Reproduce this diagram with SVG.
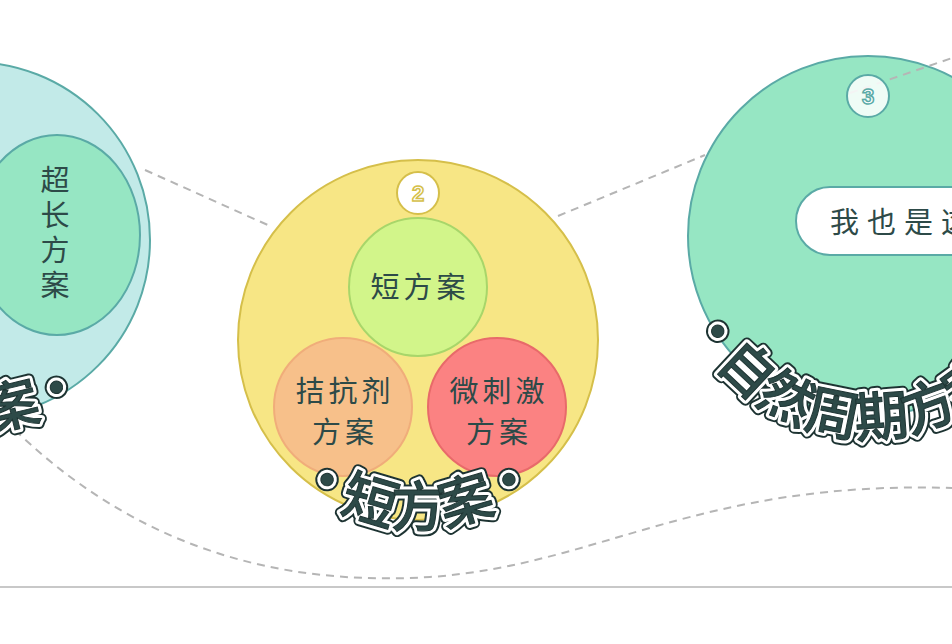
<svg xmlns="http://www.w3.org/2000/svg" width="952" height="644" viewBox="0 0 952 644">
<style>
.lbl{font-family:"Noto Sans CJK SC",sans-serif;fill:#2d4a48;font-size:29px;letter-spacing:4px}
.arc{font-family:"Noto Sans CJK SC",sans-serif;font-weight:500;font-size:54px;fill:#2d4a48;stroke:#1d3332;stroke-width:1}
.arcbg{font-family:"Noto Sans CJK SC",sans-serif;font-weight:500;font-size:54px;fill:#fff;stroke:#1d3332;stroke-width:11;stroke-linejoin:round}
.arcwh{font-family:"Noto Sans CJK SC",sans-serif;font-weight:500;font-size:54px;fill:#fff;stroke:#fff;stroke-width:7;stroke-linejoin:round}
.dash{fill:none;stroke:#b5b5b5;stroke-width:2;stroke-dasharray:8 6}
.badge{fill:#fff;stroke-width:2}
.num{font-family:"Liberation Sans",sans-serif;font-weight:bold;font-size:22px;fill:#fff;stroke-width:1.5;text-anchor:middle}
</style>
<defs>
<path id="pL" d="M -218 240 A 190 190 0 0 0 89 390"/>
<path id="pM" d="M 231 340 A 187 187 0 0 0 605 340"/>
<path id="pR" d="M 688 318 A 196 196 0 0 0 1064 235"/>
</defs>
<line x1="0" y1="587" x2="952" y2="587" stroke="#c8c8c8" stroke-width="2"/>
<g id="connectors">
<path class="dash" d="M145 170 L270 226"/>
<path class="dash" d="M558 216 L705 155"/>
<path class="dash" d="M15 430 C150 560 300 585 430 577 C600 565 700 480 952 488"/>
</g>
<g id="node1">
<circle cx="-28" cy="240" r="178" fill="#c2eae8" stroke="#5aaaa6" stroke-width="2"/>
<ellipse cx="57" cy="235" rx="83" ry="100" fill="#96e6c3" stroke="#5aaaa6" stroke-width="2"/>
<text class="lbl" x="57" y="191" text-anchor="middle">超</text>
<text class="lbl" x="57" y="226" text-anchor="middle">长</text>
<text class="lbl" x="57" y="261" text-anchor="middle">方</text>
<text class="lbl" x="57" y="296" text-anchor="middle">案</text>
<text class="arcbg"><textPath href="#pL" startOffset="100%" text-anchor="end">·超长方案·</textPath></text>
<text class="arcwh"><textPath href="#pL" startOffset="100%" text-anchor="end">·超长方案·</textPath></text>
<text class="arc"><textPath href="#pL" startOffset="100%" text-anchor="end">·超长方案·</textPath></text>
</g>
<g id="node2">
<circle cx="418" cy="340" r="180" fill="#f7e685" stroke="#d5bf4a" stroke-width="2"/>
<circle class="badge" cx="418" cy="193" r="21" stroke="#d5bf4a"/>
<text class="num" x="418" y="201" stroke="#d5bf4a">2</text>
<circle cx="418" cy="287" r="69" fill="#d2f58a" stroke="#a8d66a" stroke-width="2"/>
<text class="lbl" x="420" y="298" text-anchor="middle">短方案</text>
<circle cx="343" cy="407" r="69" fill="#f7c08a" stroke="#f0ad7a" stroke-width="2"/>
<text class="lbl" x="345" y="402" text-anchor="middle">拮抗剂</text>
<text class="lbl" x="345" y="443" text-anchor="middle">方案</text>
<circle cx="497" cy="407" r="69" fill="#fb8282" stroke="#e86a6a" stroke-width="2"/>
<text class="lbl" x="499" y="402" text-anchor="middle">微刺激</text>
<text class="lbl" x="499" y="443" text-anchor="middle">方案</text>
<text class="arcbg"><textPath href="#pM" startOffset="50%" text-anchor="middle">·短方案·</textPath></text>
<text class="arcwh"><textPath href="#pM" startOffset="50%" text-anchor="middle">·短方案·</textPath></text>
<text class="arc"><textPath href="#pM" startOffset="50%" text-anchor="middle">·短方案·</textPath></text>
</g>
<g id="node3">
<circle cx="868" cy="236" r="180" fill="#96e6c3" stroke="#5aaaa6" stroke-width="2"/>
<path class="dash" d="M850 93 L952 58"/>
<circle class="badge" cx="868" cy="96" r="21" stroke="#5aaaa6" fill-opacity="0.85"/>
<text class="num" x="868" y="104" stroke="#5aaaa6">3</text>
<rect x="796" y="187" width="240" height="68" rx="34" fill="#fff" stroke="#5aaaa6" stroke-width="2"/>
<text class="lbl" x="830" y="233" style="letter-spacing:8px">我也是这</text>
<text class="arcbg"><textPath href="#pR">·自然周期方案·</textPath></text>
<text class="arcwh"><textPath href="#pR">·自然周期方案·</textPath></text>
<text class="arc"><textPath href="#pR">·自然周期方案·</textPath></text>
</g>
</svg>
